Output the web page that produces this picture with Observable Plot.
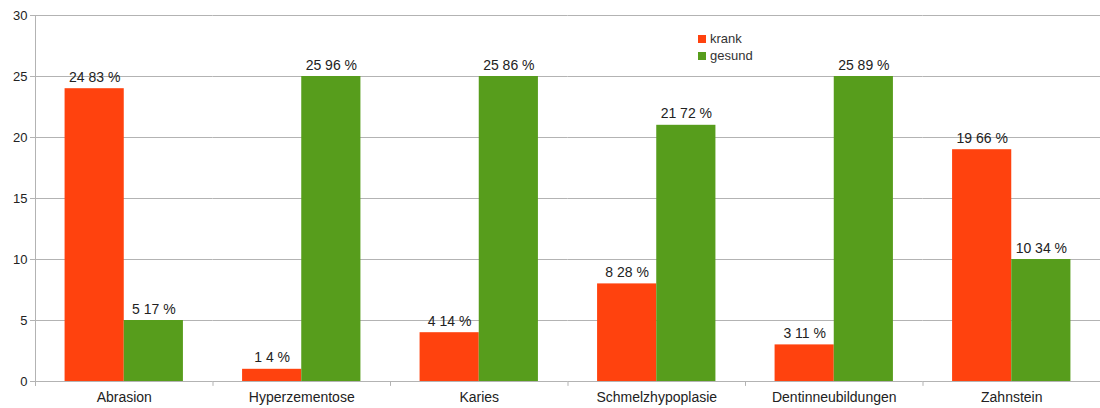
<!DOCTYPE html>
<html><head><meta charset="utf-8">
<script src="https://cdn.jsdelivr.net/npm/d3@7"></script>
<script src="https://cdn.jsdelivr.net/npm/@observablehq/plot@0.6"></script>
<style>
body{margin:0;background:#fff;font-family:"Liberation Sans",Arial,sans-serif}
#wrap{position:relative;width:1100px;height:408px}
#legend{position:absolute;left:698px;top:30px;font-size:13px;color:#333;line-height:17px}
#legend .row{display:flex;align-items:center}
#legend .sw{width:8px;height:8px;margin-right:4px}
</style></head><body>
<div id="wrap"><div id="legend"></div></div>
<script>
const categories = ["Abrasion","Hyperzementose","Karies","Schmelzhypoplasie","Dentinneubildungen","Zahnstein"];
const krank = [24,1,4,8,3,19];
const gesund = [5,25,25,21,25,10];
const krankLabels = ["24 83 %","1 4 %","4 14 %","8 28 %","3 11 %","19 66 %"];
const gesundLabels = ["5 17 %","25 96 %","25 86 %","21 72 %","25 89 %","10 34 %"];
const series = ["krank","gesund"];
const colors = ["#ff420e","#579d1c"];
const yTicks = [0,5,10,15,20,25,30];

const data = categories.flatMap((c,i)=>[
  {cat:c, s:series[0], v:krank[i], label:krankLabels[i]},
  {cat:c, s:series[1], v:gesund[i], label:gesundLabels[i]}
]);

const W=1100,H=408,mL=35,mR=0,mT=15,mB=27;
const facetW=(W-mL-mR)/categories.length;
const grid="#b3b3b3";

const chart = Plot.plot({
  width:W,height:H,marginLeft:mL,marginRight:mR,marginTop:mT,marginBottom:mB,
  style:{fontFamily:'"Liberation Sans",Arial,sans-serif',fontSize:"13px",color:"#222",background:"#fff",overflow:"visible"},
  fx:{domain:categories,padding:0,label:null,round:false,axis:null},
  x:{domain:series,paddingInner:0,paddingOuter:0.5,round:false,axis:null},
  y:{domain:[0,30],label:null},
  color:{domain:series,range:colors},
  marks:[
    Plot.ruleY(yTicks,{stroke:grid}),
    Plot.ruleX(categories,{fx:d=>d,x:null,y1:0,y2:-0.4,dx:-facetW/2,stroke:grid}),
    Plot.ruleX([categories[0]],{fx:d=>d,x:null,y1:30,y2:-0.4,dx:-facetW/2,stroke:grid}),
    Plot.barY(data,{fx:"cat",x:"s",y:"v",fill:"s"}),
    Plot.text(data,{fx:"cat",x:"s",y:"v",text:"label",dy:-7,lineAnchor:"bottom",fill:"#222",fontSize:14}),
    Plot.axisY(yTicks,{tickSize:5,tickPadding:3,stroke:grid,fill:"#222",label:null}),
    Plot.axisFx({anchor:"bottom",tickSize:0,tickPadding:11,label:null,fill:"#222",fontSize:14})
  ]
});
document.getElementById("wrap").prepend(chart);
const leg=document.getElementById("legend");
series.forEach((s,i)=>{
  const r=document.createElement("div");r.className="row";
  r.innerHTML=`<span class="sw" style="background:${colors[i]}"></span><span>${s}</span>`;
  leg.appendChild(r);
});
</script>
</body></html>
